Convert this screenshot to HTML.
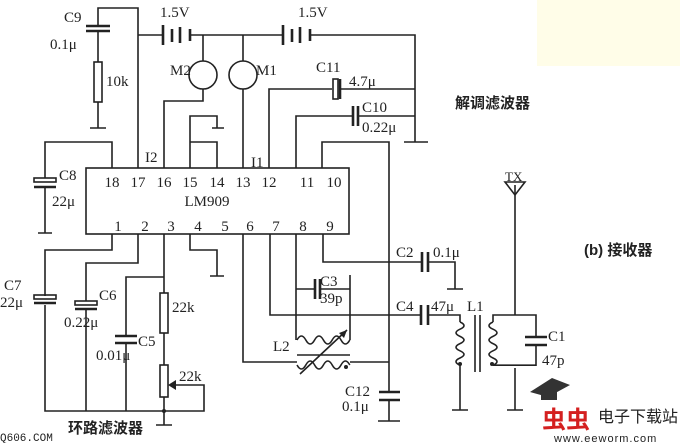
<!DOCTYPE html>
<html><head><meta charset="utf-8"><style>
html,body{margin:0;padding:0;background:#fff;}
svg{display:block;font-family:"Liberation Serif","Noto Serif CJK SC",serif;font-size:15px;}
.w{fill:none;stroke:#222;stroke-width:1.6;}
.p{fill:none;stroke:#222;stroke-width:2.6;}
text{fill:#222;}
.cj{font-family:"Liberation Sans","Noto Sans CJK SC",sans-serif;font-weight:bold;font-size:15px;}
</style></head><body>
<svg width="680" height="443" viewBox="0 0 680 443" xmlns="http://www.w3.org/2000/svg">
<rect x="537" y="0" width="143" height="66" fill="#fffde8"/>
<rect x="86" y="168" width="263" height="66" class="w"/>
<g text-anchor="middle">
<text x="112" y="187">18</text><text x="138" y="187">17</text><text x="164" y="187">16</text><text x="190" y="187">15</text><text x="217" y="187">14</text><text x="243" y="187">13</text><text x="269" y="187">12</text><text x="307" y="187">11</text><text x="334" y="187">10</text>
<text x="118" y="231">1</text><text x="145" y="231">2</text><text x="171" y="231">3</text><text x="198" y="231">4</text><text x="225" y="231">5</text><text x="250" y="231">6</text><text x="276" y="231">7</text><text x="303" y="231">8</text><text x="330" y="231">9</text>
<text x="207" y="206">LM909</text>
</g>
<path class="w" d="M138 168V8H98V26M98 31V62M98 102V128M90 128H106"/>
<path class="p" d="M86 26H110M86 31H110"/>
<rect x="94" y="62" width="8" height="40" class="w"/>
<path class="w" d="M138 35H163M190 35H283M310 35H415V142M404 142H428"/>
<path class="p" d="M163 25V45M172 29V42M180 27V43M190 29V41"/>
<path class="p" d="M283 25V45M292 29V42M300 27V43M310 29V41"/>
<path class="w" d="M203 35V61M203 89V101H164V168M243 35V61M243 89V168"/>
<circle cx="203" cy="75" r="14" class="w"/><circle cx="243" cy="75" r="14" class="w"/>
<path class="w" d="M190 168V116H217V128M212 128H224M217 168V142H190"/>
<path class="w" d="M269 168V89H332M340 89H415M296 168V116H352M358 116H415M322 168V142H389V392M389 400V421M378 421H400"/>
<rect x="333" y="79" width="5" height="20" class="w"/><path class="p" d="M340 79V99"/>
<path class="p" d="M353 106V126M358 106V126"/>
<path class="w" d="M112 168V142H45V178M45 188V233M38 233H52"/>
<rect x="34" y="178" width="22" height="4" class="w"/><path class="p" d="M34 187H56"/>
<path class="w" d="M112 234V250H45V296M45 305V411H204V385H172M86 411V310M86 301V263H138V234M164 234V293M164 333V365M164 397V425M156 425H172M164 277H126V336M126 343V411"/>
<rect x="34" y="295" width="22" height="4" class="w"/><path class="p" d="M34 303H56"/>
<rect x="75" y="301" width="22" height="4" class="w"/><path class="p" d="M75 309H97"/>
<path class="p" d="M115 336H137M115 343H137"/>
<rect x="160" y="293" width="8" height="40" class="w"/><rect x="160" y="365" width="8" height="32" class="w"/>
<path d="M168 385L176 380V390Z" fill="#222"/><circle cx="164" cy="411" r="2" fill="#222"/>
<path class="w" d="M190 234V250H217V276M210 276H224"/>
<path class="w" d="M243 234V362H297M350 362H389M270 234V315H421M428 315H460V322M296 234V340M350 340V275M296 289H315M320 289H350M323 234V262H422M428 262H455V289M447 289H463"/>
<path class="p" d="M315 279V299M320 279V299M422 252V272M428 252V272M421 305V325M428 305V325M379 392H400M379 400H400"/>
<path class="w" d="M297 340q4.4-8 8.8 0t8.8 0t8.8 0t8.8 0t8.8 0t8.8 0M297 365q4.4 8 8.8 0t8.8 0t8.8 0t8.8 0t8.8 0t8.8 0M297 355H350M300 374L347 330"/>
<path d="M347 330l-8 3 5 5z" fill="#222"/><circle cx="346" cy="367" r="2" fill="#222"/>
<path class="w" d="M460 322q8 3.6 0 7.2t0 7.2t0 7.2t0 7.2t0 7.2t0 7.2V410M452 410H468M475 315V372M480 315V372M493 322q-8 3.6 0 7.2t0 7.2t0 7.2t0 7.2t0 7.2t0 7.2H536V345M536 337V315H493V322M515 185V315M515 368V410M507 410H523"/>
<circle cx="460" cy="364" r="2" fill="#222"/><circle cx="492" cy="364" r="2" fill="#222"/>
<path class="p" d="M525 337H547M525 345H547"/>
<path class="w" d="M505 182H525L515 195Z"/>
<text x="64" y="22">C9</text><text x="50" y="49">0.1μ</text><text x="106" y="86">10k</text>
<text x="160" y="17">1.5V</text><text x="298" y="17">1.5V</text>
<text x="170" y="75">M2</text><text x="256" y="75">M1</text>
<text x="145" y="162">I2</text><text x="251" y="167">I1</text>
<text x="316" y="72">C11</text><text x="349" y="86">4.7μ</text><text x="362" y="112">C10</text><text x="362" y="132">0.22μ</text>
<text x="59" y="180">C8</text><text x="52" y="206">22μ</text>
<text x="4" y="290">C7</text><text x="0" y="307">22μ</text><text x="99" y="300">C6</text><text x="64" y="327">0.22μ</text>
<text x="138" y="346">C5</text><text x="96" y="360">0.01μ</text><text x="172" y="312">22k</text><text x="179" y="381">22k</text>
<text x="320" y="286">C3</text><text x="320" y="303">39p</text><text x="273" y="351">L2</text>
<text x="396" y="257">C2</text><text x="433" y="257">0.1μ</text><text x="396" y="311">C4</text><text x="431" y="311">47μ</text><text x="467" y="311">L1</text>
<text x="548" y="341">C1</text><text x="542" y="365">47p</text>
<text x="345" y="396">C12</text><text x="342" y="411">0.1μ</text>
<text x="505" y="181" style="font-size:13px">TX</text>
<text x="455" y="108" class="cj">解调滤波器</text>
<text x="584" y="255" class="cj">(b) 接收器</text>
<text x="68" y="433" class="cj">环路滤波器</text>
<text x="0" y="441" style="font-family:'Liberation Mono',monospace;font-size:11px">Q606.COM</text>
<path d="M530 392l22-14 18 7-22 12z" fill="#333"/>
<path d="M541 392v8h16v-8" fill="#333"/>
<text x="542" y="428" style="font-family:'Noto Sans CJK SC',sans-serif;font-weight:bold;font-size:24px;fill:#d42020">虫虫</text>
<text x="598" y="422" style="font-family:'Noto Sans CJK SC',sans-serif;font-size:16px">电子下载站</text>
<text x="554" y="442" style="font-family:'Liberation Sans',sans-serif;font-size:11px;letter-spacing:1px">www.eeworm.com</text>
</svg>
</body></html>
